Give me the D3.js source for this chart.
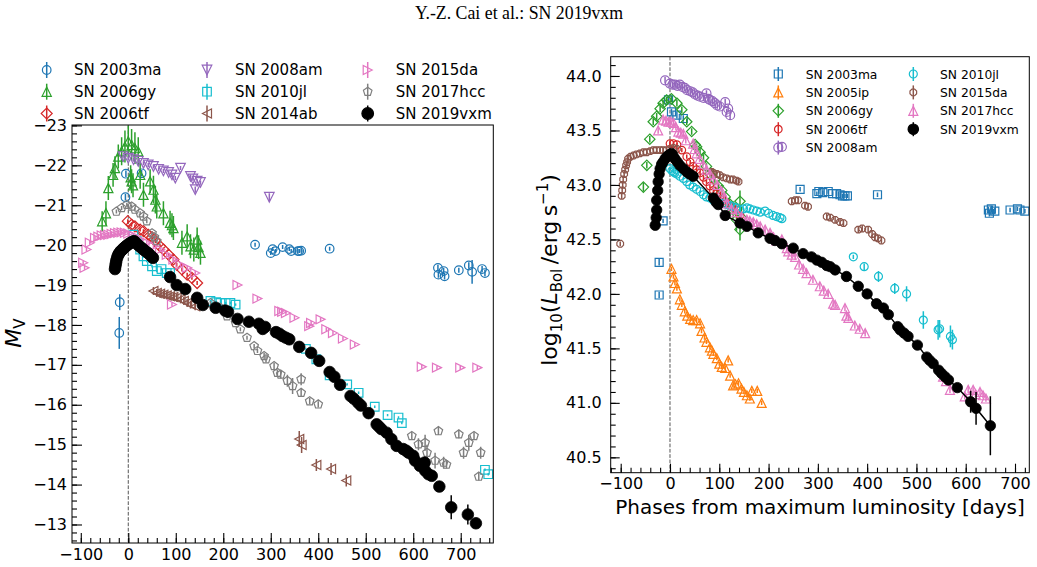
<!DOCTYPE html>
<html><head><meta charset="utf-8">
<script src="https://cdn.jsdelivr.net/npm/d3@7"></script>
<style>
body{margin:0;background:#fff}
svg{display:block}
text{font-family:"DejaVu Sans",sans-serif;fill:#000}
</style>
</head><body>
<svg id="c" width="1037" height="567"></svg>
<script>
// ---------------- DATA ----------------
const TITLE = "Y.-Z. Cai et al.: SN 2019vxm";

// Left panel: [phase (days), M_V, error]
const L_2003ma = [[-5,-21.79,0.08],[28,-21.8,0.08],[-6,-21.2,0.08],[-18,-18.57,0.2],[-19,-17.8,0.4],
[267,-20.01,0.05],[300,-19.8,0.05],[304,-19.9,0.05],[310,-19.85,0.05],[325,-19.95,0.05],[339,-19.9,0.05],[343,-19.85,0.05],[357,-19.85,0.05],[360,-19.85,0.05],[364,-19.86,0.05],[424,-19.91,0.05],
[652,-19.43,0.08],[653,-19.26,0.08],[664,-19.35,0.08],[666,-19.22,0.08],[696,-19.37,0.06],[717,-19.49,0.08],[724,-19.33,0.3],[745,-19.4,0.08],[751,-19.3,0.08]];
const L_2006gy = [[-55,-20.6,0.25],[-47,-20.8,0.3],[-42,-21.43,0.3],[-32,-21.76,0.3],[-28,-21.93,0.3],[-21,-22.22,0.3],[-14,-22.35,0.35],[-7,-22.47,0.4],[0,-22.6,0.4],[7,-22.51,0.4],[14,-22.43,0.4],[21,-22.35,0.35],
[5,-21.7,0.3],[7,-21.6,0.3],[10,-21.5,0.3],[25,-21.76,0.35],[32,-21.26,0.3],[46,-21.6,0.3],[53,-21.39,0.35],[57,-21.14,0.35],[60,-20.97,0.3],[74,-20.8,0.3],[88,-20.56,0.3],[92,-20.5,0.3],[95,-20.43,0.3],[113,-20.06,0.3],[124,-20.22,0.3],[131,-19.97,0.3],[138,-19.89,0.3],[145,-20.14,0.3],[148,-19.95,0.3],[152,-19.81,0.3]];
const L_2006tf = [[-1,-20.6,0.05],[7,-20.51,0.05],[14,-20.47,0.05],[25,-20.39,0.05],[32,-20.35,0.05],[42,-20.26,0.05],[50,-20.2,0.05],[57,-20.1,0.05],[67,-19.97,0.05],[74,-19.89,0.05],[85,-19.76,0.05],[95,-19.64,0.05],[102,-19.51,0.05],[113,-19.39,0.05],[124,-19.26,0.05],[134,-19.18,0.05],[145,-19.05,0.05]];
const L_2008am = [[-11,-22.22,0.05],[0,-22.18,0.05],[11,-22.14,0.05],[21,-22.1,0.05],[32,-22.05,0.05],[42,-22.01,0.05],[53,-21.97,0.05],[64,-21.9,0.05],[74,-21.86,0.05],[85,-21.82,0.05],[92,-21.76,0.05],[99,-21.68,0.05],[110,-21.93,0.05],[131,-21.72,0.05],[136,-21.66,0.05],[145,-21.6,0.05],[152,-21.57,0.05],[141,-21.39,0.08],[297,-21.2,0.1]];
const L_2010jl = [[11,-20.26,0.03],[18,-20.1,0.03],[25,-19.89,0.03],[32,-19.72,0.03],[39,-19.6,0.03],[50,-19.47,0.03],[60,-19.35,0.03],[70,-19.4,0.03],[81,-19.3,0.03],[88,-19.3,0.03],
[173,-18.6,0.03],[185,-18.57,0.03],[194,-18.55,0.03],[205,-18.55,0.03],[215,-18.55,0.03],[226,-18.51,0.03],
[374,-17.4,0.03],[396,-17.14,0.03],[424,-16.74,0.03],[461,-16.51,0.03],[485,-16.3,0.03],[519,-15.95,0.03],[546,-15.74,0.03],[569,-15.68,0.03],[576,-15.54,0.03],[751,-14.37,0.03],[758,-14.26,0.03]];
const L_2014ab = [[53,-18.85,0.1],[60,-18.8,0.1],[67,-18.78,0.1],[74,-18.76,0.1],[81,-18.74,0.1],[88,-18.72,0.1],[95,-18.7,0.1],[102,-18.68,0.1],[110,-18.64,0.1],[117,-18.6,0.1],[124,-18.55,0.1],[131,-18.51,0.1],[141,-18.47,0.1],
[360,-15.14,0.2],[365,-14.99,0.2],[396,-14.49,0.15],[427,-14.39,0.15],[459,-14.1,0.15]];
const L_2015da = [[-95,-19.56,0.05],[-92,-19.43,0.05],[-88,-19.89,0.05],[-81,-20.06,0.05],[-70,-20.18,0.05],[-63,-20.21,0.05],[-56,-20.24,0.05],[-49,-20.25,0.05],[-42,-20.26,0.05],[-35,-20.28,0.05],[-28,-20.3,0.05],[-21,-20.31,0.05],[-14,-20.32,0.05],[-7,-20.31,0.05],[0,-20.29,0.05],[11,-20.24,0.05],[25,-20.14,0.05],[39,-20.06,0.05],[53,-19.97,0.05],[67,-19.89,0.05],[81,-19.76,0.05],[95,-19.64,0.05],[110,-19.51,0.05],[124,-19.43,0.05],[141,-19.3,0.05],
[92,-18.51,0.05],[230,-19.0,0.05],[272,-18.66,0.05],[318,-18.35,0.05],[324,-18.33,0.05],[332,-18.3,0.05],[350,-18.18,0.05],[381,-17.97,0.05],[385,-18.05,0.05],[405,-18.14,0.05],[417,-17.89,0.05],[431,-17.8,0.05],[452,-17.66,0.05],[477,-17.51,0.05],
[618,-16.95,0.05],[650,-16.93,0.05],[699,-16.93,0.05],[735,-16.93,0.05]];
const L_2017hcc = [[-25,-20.84,0.05],[-14,-20.93,0.05],[-3,-21.01,0.05],[7,-20.97,0.05],[14,-20.89,0.05],[25,-20.8,0.05],[32,-20.72,0.05],[39,-20.6,0.05],[50,-20.3,0.05],[55,-20.2,0.05],[60,-20.1,0.05],
[173,-18.55,0.05],[194,-18.43,0.05],[208,-18.22,0.05],[226,-18.05,0.05],[236,-17.89,0.05],[250,-17.68,0.05],[265,-17.47,0.05],[272,-17.35,0.05],[286,-17.22,0.08],[290,-17.14,0.08],[307,-16.97,0.08],[314,-16.8,0.08],[321,-16.76,0.1],[335,-16.6,0.15],[346,-16.47,0.2],[364,-16.64,0.15],[364,-16.3,0.1],[382,-16.09,0.08],[400,-16.01,0.08],
[597,-15.22,0.1],[611,-15.01,0.15],[625,-15.05,0.2],[629,-14.8,0.2],[646,-14.6,0.2],[653,-15.34,0.1],[664,-14.55,0.15],[670,-14.5,0.1],[696,-15.26,0.1],[706,-14.8,0.15],[717,-15.05,0.2],[728,-15.22,0.1],[738,-14.2,0.1],[742,-14.8,0.15]];
const L_2019vxm = [[-28,-19.4,0.05],[-27,-19.48,0.05],[-26,-19.55,0.05],[-25,-19.62,0.05],[-23,-19.7,0.05],[-21,-19.76,0.05],[-19,-19.8,0.05],[-16,-19.85,0.05],[-13,-19.88,0.05],[-10,-19.92,0.05],[-7,-19.95,0.05],[-4,-19.98,0.05],[0,-20.02,0.05],[4,-20.05,0.05],[8,-20.08,0.05],[12,-20.1,0.05],[16,-20.06,0.05],[21,-20.0,0.05],[26,-19.95,0.05],[31,-19.9,0.05],[36,-19.85,0.05],[42,-19.8,0.05],[47,-19.74,0.05],[52,-19.68,0.05],
[88,-19.2,0.05],[102,-19.0,0.05],[120,-18.9,0.05],[145,-18.68,0.05],[157,-18.5,0.05],[184,-18.43,0.05],[204,-18.36,0.05],[210,-18.33,0.05],[230,-18.15,0.05],[254,-18.08,0.05],[275,-18.03,0.05],[283,-17.9,0.05],[288,-17.95,0.05],[311,-17.82,0.05],[318,-17.78,0.05],[325,-17.72,0.05],[332,-17.68,0.05],[339,-17.64,0.05],[360,-17.45,0.05],[385,-17.3,0.05],[402,-17.1,0.05],[424,-16.82,0.05],[434,-16.7,0.05],[446,-16.5,0.05],[468,-16.22,0.05],[475,-16.15,0.05],[484,-16.05,0.05],[490,-15.98,0.05],[506,-15.79,0.05],[523,-15.51,0.05],[528,-15.45,0.05],[533,-15.39,0.05],[544,-15.3,0.05],[554,-15.14,0.05],[565,-14.97,0.1],[579,-14.89,0.05],[585,-14.85,0.05],[590,-14.8,0.05],[600,-14.72,0.05],[604,-14.6,0.05],[614,-14.47,0.05],[624,-14.55,0.05],[625,-14.35,0.05],[632,-14.26,0.05],[639,-14.22,0.1],[655,-13.95,0.1],[680,-13.43,0.3],[715,-13.25,0.25],[732,-13.03,0.05]];

// Right panel: [phase (days), log10 L_Bol, error]
const R_2003ma = [[-14,42.67,0.02],[-22,42.29,0.03],[-22,41.99,0.03],[-3,43.78,0.03],[3,43.67,0.03],[14,43.64,0.03],[27,43.61,0.03],[264,42.96,0.02],[298,42.92,0.02],[302,42.94,0.02],[310,42.93,0.02],[321,42.94,0.02],[330,42.92,0.02],[338,42.92,0.02],[345,42.91,0.02],[350,42.9,0.02],[355,42.9,0.02],[360,42.9,0.02],[421,42.91,0.02],[646,42.77,0.03],[648,42.74,0.03],[652,42.78,0.03],[659,42.76,0.03],[690,42.77,0.02],[705,42.78,0.02],[710,42.77,0.02],[720,42.76,0.02]];
const R_2005ip = [[3,42.23,0.02],[7,42.16,0.02],[10,42.1,0.02],[14,42.05,0.02],[20,41.95,0.02],[24,41.9,0.02],[30,41.84,0.02],[35,41.8,0.02],[41,41.77,0.02],[47,41.76,0.02],[54,41.76,0.02],[61,41.73,0.02],[64,41.66,0.02],[70,41.6,0.02],[74,41.56,0.02],[81,41.51,0.02],[85,41.48,0.02],[88,41.45,0.02],[95,41.41,0.02],[100,41.36,0.02],[105,41.33,0.02],[112,41.32,0.02],[118,41.39,0.02],[122,41.25,0.02],[128,41.16,0.02],[133,41.17,0.02],[139,41.18,0.02],[145,41.13,0.02],[150,41.1,0.02],[156,41.07,0.02],[162,41.04,0.02],[166,41.11,0.02],[177,41.11,0.02],[186,41.0,0.02]];
const R_2006gy = [[-54,42.98,0.04],[-47,43.18,0.03],[-41,43.42,0.03],[-34,43.58,0.03],[-27,43.63,0.03],[-20,43.7,0.03],[-14,43.75,0.03],[-7,43.78,0.03],[3,43.79,0.03],[14,43.75,0.03],[24,43.69,0.03],[34,43.58,0.03],[44,43.49,0.03],[51,43.37,0.03],[54,43.35,0.03],[61,43.3,0.03],[68,43.25,0.03],[74,43.17,0.03],[81,43.1,0.03],[91,43.05,0.03],[98,42.99,0.03],[105,42.95,0.03],[112,42.89,0.04],[120,42.83,0.05],[128,42.77,0.08],[135,42.68,0.1],[142,42.59,0.1],[142,42.85,0.1],[145,42.7,0.1]];
const R_2006tf = [[0,43.38,0.03],[7,43.38,0.02],[14,43.37,0.02],[24,43.32,0.02],[34,43.26,0.02],[41,43.21,0.02],[47,43.17,0.02],[54,43.14,0.02],[61,43.11,0.02],[68,43.07,0.02],[74,43.03,0.02],[81,42.99,0.02],[88,42.95,0.02],[95,42.92,0.02],[101,42.89,0.02],[108,42.86,0.02],[115,42.83,0.02],[125,42.8,0.02],[135,42.77,0.02],[142,42.72,0.02]];
const R_2008am = [[-10,43.96,0.03],[0,43.93,0.03],[5,43.92,0.03],[10,43.92,0.03],[15,43.91,0.03],[20,43.92,0.03],[25,43.9,0.03],[30,43.89,0.03],[35,43.87,0.03],[41,43.86,0.03],[46,43.85,0.03],[51,43.83,0.03],[56,43.82,0.03],[61,43.81,0.03],[68,43.8,0.03],[74,43.84,0.03],[78,43.79,0.03],[81,43.78,0.03],[86,43.77,0.03],[91,43.75,0.03],[96,43.73,0.03],[101,43.72,0.03],[112,43.76,0.03],[115,43.67,0.03],[118,43.7,0.03],[122,43.64,0.04],[227,43.35,0.04]];
const R_2010jl = [[0,43.15,0.01],[4,43.13,0.01],[7,43.12,0.01],[10,43.11,0.01],[14,43.1,0.01],[20,43.08,0.01],[27,43.06,0.01],[34,43.03,0.01],[40,43.0,0.01],[47,42.98,0.01],[54,42.96,0.01],[61,42.94,0.01],[68,42.91,0.01],[74,42.89,0.01],[81,42.88,0.01],[88,42.86,0.01],[95,42.85,0.01],[101,42.83,0.01],[108,42.83,0.01],[115,42.82,0.01],[122,42.81,0.01],[128,42.8,0.01],[135,42.79,0.01],[142,42.77,0.01],[149,42.78,0.01],[156,42.79,0.01],[162,42.78,0.01],[169,42.77,0.01],[176,42.76,0.01],[183,42.75,0.01],[193,42.76,0.01],[200,42.74,0.01],[209,42.72,0.01],[216,42.71,0.01],[223,42.7,0.01],[227,42.69,0.01],[372,42.34,0.02],[394,42.25,0.03],[423,42.16,0.05],[456,42.05,0.05],[480,42.0,0.07],[514,41.76,0.08],[544,41.67,0.09],[547,41.68,0.08],[569,41.61,0.1],[573,41.58,0.09]];
const R_2015da = [[-101,42.46,0.02],[-98,42.9,0.03],[-97,42.95,0.03],[-96,43.0,0.03],[-95,43.05,0.03],[-93,43.1,0.03],[-91,43.14,0.03],[-89,43.18,0.03],[-87,43.21,0.03],[-85,43.24,0.03],[-80,43.26,0.03],[-74,43.27,0.03],[-68,43.28,0.03],[-61,43.29,0.03],[-54,43.3,0.03],[-47,43.3,0.03],[-40,43.31,0.03],[-34,43.32,0.03],[-27,43.32,0.03],[-20,43.32,0.03],[-14,43.32,0.03],[-7,43.32,0.03],[0,43.33,0.03],[7,43.34,0.03],[14,43.33,0.03],[85,43.12,0.03],[88,43.11,0.03],[95,43.1,0.03],[101,43.09,0.03],[108,43.07,0.03],[115,43.06,0.03],[122,43.05,0.03],[128,43.05,0.03],[135,43.04,0.03],[139,43.03,0.03],[247,42.85,0.03],[254,42.86,0.03],[260,42.86,0.03],[274,42.81,0.03],[280,42.8,0.03],[318,42.71,0.03],[325,42.7,0.03],[335,42.68,0.03],[345,42.66,0.03],[352,42.65,0.03],[382,42.59,0.03],[390,42.6,0.03],[402,42.59,0.03],[410,42.55,0.03],[416,42.52,0.03],[422,42.51,0.03],[429,42.49,0.03]];
const R_2017hcc = [[-24,43.5,0.03],[-14,43.6,0.03],[-8,43.59,0.03],[-3,43.58,0.03],[2,43.58,0.03],[7,43.57,0.03],[12,43.53,0.03],[17,43.49,0.03],[22,43.48,0.03],[27,43.47,0.03],[32,43.41,0.03],[47,43.38,0.03],[50,43.33,0.03],[54,43.29,0.03],[60,43.24,0.03],[67,43.19,0.03],[74,43.14,0.03],[81,43.1,0.03],[88,43.05,0.03],[96,43.0,0.03],[105,42.94,0.03],[110,42.89,0.03],[115,42.83,0.03],[125,42.78,0.03],[135,42.75,0.03],[145,42.71,0.03],[156,42.68,0.03],[162,42.67,0.03],[169,42.66,0.03],[176,42.64,0.03],[183,42.62,0.03],[193,42.59,0.03],[203,42.56,0.03],[210,42.52,0.03],[216,42.49,0.03],[227,42.5,0.03],[237,42.42,0.03],[240,42.39,0.03],[247,42.36,0.03],[254,42.34,0.03],[262,42.27,0.03],[270,42.23,0.03],[277,42.19,0.03],[290,42.13,0.03],[304,42.07,0.03],[312,42.03,0.03],[321,42.0,0.03],[331,41.91,0.03],[335,41.9,0.03],[355,41.87,0.03],[358,41.8,0.03],[362,41.78,0.03],[375,41.71,0.03],[385,41.68,0.03],[396,41.64,0.03],[554,41.24,0.03],[560,41.2,0.03],[568,41.12,0.03],[598,41.06,0.03],[605,41.12,0.03],[615,41.12,0.03],[620,41.08,0.03],[629,41.1,0.03],[635,41.07,0.03],[641,41.04,0.03]];
const R_2019vxm = [[-30,42.63,0.02],[-28,42.7,0.02],[-27,42.77,0.02],[-27,42.86,0.02],[-25,42.95,0.02],[-24,43.03,0.02],[-22,43.1,0.02],[-20,43.15,0.02],[-17,43.19,0.02],[-14,43.21,0.02],[-10,43.24,0.02],[-6,43.26,0.02],[-3,43.27,0.02],[0,43.28,0.02],[3,43.29,0.02],[6,43.27,0.02],[10,43.24,0.02],[15,43.21,0.02],[20,43.18,0.02],[27,43.15,0.02],[34,43.12,0.02],[40,43.1,0.02],[47,43.08,0.02],[88,42.88,0.02],[94,42.84,0.02],[98,42.82,0.02],[112,42.72,0.02],[142,42.65,0.02],[156,42.62,0.02],[179,42.56,0.02],[203,42.51,0.02],[213,42.49,0.02],[227,42.46,0.02],[250,42.42,0.02],[270,42.37,0.02],[287,42.34,0.02],[298,42.31,0.02],[308,42.29,0.02],[318,42.26,0.02],[325,42.25,0.02],[335,42.22,0.02],[358,42.16,0.02],[382,42.07,0.02],[400,42.0,0.02],[419,41.91,0.02],[433,41.87,0.02],[443,41.81,0.02],[462,41.7,0.02],[467,41.67,0.02],[475,41.64,0.02],[483,41.61,0.02],[502,41.53,0.02],[521,41.42,0.02],[527,41.39,0.02],[534,41.36,0.02],[545,41.3,0.02],[551,41.27,0.02],[558,41.24,0.02],[565,41.21,0.02],[583,41.14,0.03],[610,41.01,0.1],[621,40.95,0.15],[650,40.79,0.27]];

// Tick values
const LEFT_X_TICKS = [-100,0,100,200,300,400,500,600,700];
const LEFT_Y_TICKS = [-23,-22,-21,-20,-19,-18,-17,-16,-15,-14,-13];
const RIGHT_X_TICKS = [-100,0,100,200,300,400,500,600,700];
const RIGHT_Y_TICKS = [40.5,41.0,41.5,42.0,42.5,43.0,43.5,44.0];

// Series order (names)
const LEFT_NAMES = ["SN 2003ma","SN 2006gy","SN 2006tf","SN 2008am","SN 2010jl","SN 2014ab","SN 2015da","SN 2017hcc","SN 2019vxm"];
const RIGHT_NAMES = ["SN 2003ma","SN 2005ip","SN 2006gy","SN 2006tf","SN 2008am","SN 2010jl","SN 2015da","SN 2017hcc","SN 2019vxm"];

// ---------------- DRAW ----------------
const svg = d3.select("#c");
svg.append("rect").attr("width",1037).attr("height",567).attr("fill","#fff");
svg.append("text").attr("x",519).attr("y",18.5).attr("text-anchor","middle")
  .style("font-family","'Liberation Serif','Times New Roman',serif").style("font-size","17.8px").text(TITLE);

function markerPath(type, r){
  const pts = (arr)=> "M"+arr.map(p=>p[0].toFixed(2)+","+p[1].toFixed(2)).join("L")+"Z";
  switch(type){
    case "circle": return `M${r},0A${r},${r} 0 1,1 ${-r},0A${r},${r} 0 1,1 ${r},0Z`;
    case "square": return pts([[-r,-r],[r,-r],[r,r],[-r,r]]);
    case "diamond": return pts([[0,-r],[r,0],[0,r],[-r,0]]);
    case "tup": return pts([[0,-r],[r,r],[-r,r]]);
    case "tdown": return pts([[0,r],[r,-r],[-r,-r]]);
    case "tleft": return pts([[-r,0],[r,-r],[r,r]]);
    case "tright": return pts([[r,0],[-r,-r],[-r,r]]);
    case "pent": return pts(d3.range(5).map(i=>{const a=-Math.PI/2+i*2*Math.PI/5;return [r*Math.cos(a),r*Math.sin(a)];}));
    case "oct": return pts(d3.range(8).map(i=>{const a=Math.PI/8+i*Math.PI/4;return [r*Math.cos(a),r*Math.sin(a)];}));
  }
}

const C = {blue:"#1f77b4",orange:"#ff7f0e",green:"#2ca02c",red:"#d62728",purple:"#9467bd",brown:"#8c564b",pink:"#e377c2",gray:"#7f7f7f",cyan:"#17becf",black:"#000"};

const leftSeries = [
  {data:L_2003ma,color:C.blue,marker:"circle",r:4.3},
  {data:L_2006gy,color:C.green,marker:"tup",r:4.6},
  {data:L_2006tf,color:C.red,marker:"diamond",r:5.5},
  {data:L_2008am,color:C.purple,marker:"tdown",r:4.8},
  {data:L_2010jl,color:C.cyan,marker:"square",r:4.3},
  {data:L_2014ab,color:C.brown,marker:"tleft",r:4.5},
  {data:L_2015da,color:C.pink,marker:"tright",r:4.5},
  {data:L_2017hcc,color:C.gray,marker:"pent",r:4.5},
  {data:L_2019vxm,color:C.black,marker:"circle",r:5.8,filled:true}
].map((s,i)=>Object.assign(s,{name:LEFT_NAMES[i]}));

const rightSeries = [
  {data:R_2003ma,color:C.blue,marker:"square",r:4},
  {data:R_2005ip,color:C.orange,marker:"tup",r:4.5},
  {data:R_2006gy,color:C.green,marker:"diamond",r:5.2},
  {data:R_2006tf,color:C.red,marker:"circle",r:3.8},
  {data:R_2008am,color:C.purple,marker:"circle",r:4.5},
  {data:R_2010jl,color:C.cyan,marker:"circle",r:4},
  {data:R_2015da,color:C.brown,marker:"oct",r:3.6},
  {data:R_2017hcc,color:C.pink,marker:"tup",r:4.5},
  {data:R_2019vxm,color:C.black,marker:"circle",r:5.2,filled:true,line:true}
].map((s,i)=>Object.assign(s,{name:RIGHT_NAMES[i]}));

function drawSeries(g, s, x, y){
  const sg = g.append("g");
  if(s.line){
    sg.append("path").datum(s.data).attr("fill","none").attr("stroke",s.color).attr("stroke-width",1.5)
      .attr("d", d3.line().x(d=>x(d[0])).y(d=>y(d[1])));
  }
  sg.selectAll("line.err").data(s.data).join("line").attr("class","err")
    .attr("x1",d=>x(d[0])).attr("x2",d=>x(d[0]))
    .attr("y1",d=>y(d[1]-d[2])).attr("y2",d=>y(d[1]+d[2]))
    .attr("stroke",s.color).attr("stroke-width",1.5);
  sg.selectAll("path.m").data(s.data).join("path").attr("class","m")
    .attr("transform",d=>`translate(${x(d[0])},${y(d[1])})`)
    .attr("d",markerPath(s.marker,s.r))
    .attr("fill",s.filled?s.color:"none").attr("stroke",s.color).attr("stroke-width",s.filled?0.8:1.2);
}

function drawPanel(p){
  const x = d3.scaleLinear().domain(p.xDomain).range([p.left,p.right]);
  const y = d3.scaleLinear().domain(p.yDomain).range([p.bottom,p.top]);
  const g = svg.append("g");
  const clipId = "clip"+p.id;
  g.append("clipPath").attr("id",clipId).append("rect")
    .attr("x",p.left).attr("y",p.top).attr("width",p.right-p.left).attr("height",p.bottom-p.top);
  const plot = g.append("g").attr("clip-path",`url(#${clipId})`);
  plot.append("line").attr("x1",x(0)).attr("x2",x(0)).attr("y1",p.top).attr("y2",p.bottom)
    .attr("stroke","#555").attr("stroke-width",1).attr("stroke-dasharray","3.7,1.6");
  p.series.forEach(s=>drawSeries(plot,s,x,y));

  const ax = g.append("g").attr("transform",`translate(0,${p.bottom})`)
    .call(d3.axisBottom(x).tickValues(p.xMinor).tickSize(-p.minorLen).tickFormat(""));
  ax.select(".domain").remove();
  const axM = g.append("g").attr("transform",`translate(0,${p.bottom})`)
    .call(d3.axisBottom(x).tickValues(p.xTicks).tickSize(-p.majorLen).tickPadding(p.xPad).tickFormat(d3.format("d")));
  axM.select(".domain").remove();
  const ay = g.append("g").attr("transform",`translate(${p.left},0)`)
    .call(d3.axisLeft(y).tickValues(p.yMinor).tickSize(-p.minorLen).tickFormat(""));
  ay.select(".domain").remove();
  const ayM = g.append("g").attr("transform",`translate(${p.left},0)`)
    .call(d3.axisLeft(y).tickValues(p.yTicks).tickSize(-p.majorLen).tickPadding(p.yPad).tickFormat(p.yFmt));
  ayM.select(".domain").remove();
  g.selectAll(".tick line").attr("stroke","#000").attr("stroke-width",1.1);
  g.selectAll(".tick text").style("font-family","'DejaVu Sans',sans-serif").style("font-size",p.tickFont+"px").attr("fill","#000");
  g.append("rect").attr("x",p.left).attr("y",p.top).attr("width",p.right-p.left).attr("height",p.bottom-p.top)
    .attr("fill","none").attr("stroke","#000").attr("stroke-width",1);
  return {x,y,g};
}

drawPanel({id:"L",left:72,right:493.3,top:125,bottom:543,
  xDomain:[-118.5,768.6], yDomain:[-12.536,-23.01],
  xTicks:LEFT_X_TICKS, yTicks:LEFT_Y_TICKS,
  xMinor:d3.range(-100,769,20), yMinor:d3.range(0,53).map(i=>+(-23+i*0.2).toFixed(1)),
  majorLen:10,minorLen:5,xPad:6,yPad:5,tickFont:16,yFmt:d3.format("d"),
  series:leftSeries});

drawPanel({id:"R",left:610.7,right:1029.3,top:56.7,bottom:472.7,
  xDomain:[-120.3,729], yDomain:[40.359,44.177],
  xTicks:RIGHT_X_TICKS, yTicks:RIGHT_Y_TICKS,
  xMinor:d3.range(-120,729,20), yMinor:d3.range(0,38).map(i=>+(40.4+i*0.1).toFixed(1)),
  majorLen:9,minorLen:5,xPad:5,yPad:9,tickFont:16,yFmt:d3.format(".1f"),
  series:rightSeries});

// axis labels
const lyl = svg.append("text").attr("transform","translate(21,333) rotate(-90)").attr("text-anchor","middle").style("font-size","22px");
lyl.append("tspan").style("font-style","italic").text("M");
lyl.append("tspan").attr("dy",4).style("font-size","15px").text("V");

const ryl = svg.append("text").attr("transform","translate(557,270) rotate(-90)").attr("text-anchor","middle").style("font-size","22px");
ryl.append("tspan").text("log");
ryl.append("tspan").attr("dy",4.5).style("font-size","15px").text("10");
ryl.append("tspan").attr("dy",-4.5).text("(");
ryl.append("tspan").style("font-style","italic").text("L");
ryl.append("tspan").attr("dy",4.5).style("font-size","15px").text("Bol");
ryl.append("tspan").attr("dy",-4.5).text("\u2009/erg\u2009s");
ryl.append("tspan").attr("dy",-9).style("font-size","15px").text("\u22121");
ryl.append("tspan").attr("dy",9).text(")");

svg.append("text").attr("x",820).attr("y",513.5).attr("text-anchor","middle").style("font-size","20px")
  .text("Phases from maximum luminosity [days]");

// Left legend (3 columns, column-major)
const LLX = [[46.7,74],[207,235],[367.7,395.7]], LLY=[70,91.7,113.5];
leftSeries.forEach((s,i)=>{
  const col=Math.floor(i/3), row=i%3;
  const mx=LLX[col][0], my=LLY[row];
  const lg = svg.append("g");
  lg.append("line").attr("x1",mx).attr("x2",mx).attr("y1",my-8).attr("y2",my+8).attr("stroke",s.color).attr("stroke-width",1.5);
  lg.append("path").attr("transform",`translate(${mx},${my})`).attr("d",markerPath(s.marker,s.r))
    .attr("fill",s.filled?s.color:"none").attr("stroke",s.color).attr("stroke-width",1.2);
  lg.append("text").attr("x",LLX[col][1]).attr("y",my+5.4).style("font-size","15px").text(s.name);
});

// Right legend (2 columns: 5 + 4)
const RLX=[[778.3,805.7],[913.3,940]], RLY=[74,92.4,110.8,129.2,147.6];
rightSeries.forEach((s,i)=>{
  const col=i<5?0:1, row=i<5?i:i-5;
  const mx=RLX[col][0], my=RLY[row];
  const lg = svg.append("g");
  lg.append("line").attr("x1",mx).attr("x2",mx).attr("y1",my-7).attr("y2",my+7).attr("stroke",s.color).attr("stroke-width",1.5);
  lg.append("path").attr("transform",`translate(${mx},${my})`).attr("d",markerPath(s.marker,s.r))
    .attr("fill",s.filled?s.color:"none").attr("stroke",s.color).attr("stroke-width",1.2);
  lg.append("text").attr("x",RLX[col][1]).attr("y",my+4.5).style("font-size","12.3px").text(s.name);
});
</script>
</body></html>
